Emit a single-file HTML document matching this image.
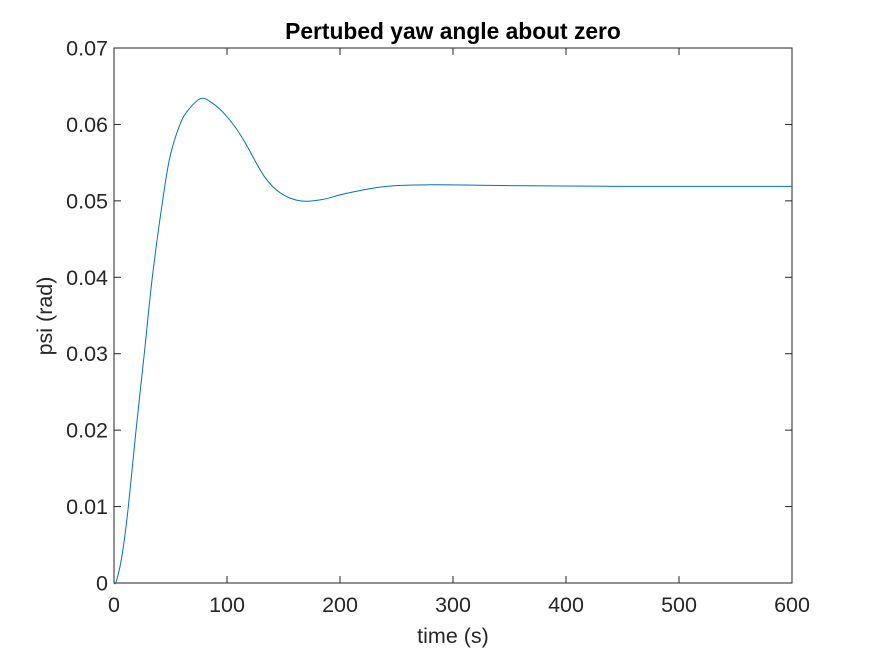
<!DOCTYPE html>
<html><head><meta charset="utf-8"><style>
html,body{margin:0;padding:0;background:#fff;}
svg{display:block;font-family:"Liberation Sans",sans-serif;}
</style></head><body>
<svg id="chart" width="875" height="656" viewBox="0 0 875 656" xmlns="http://www.w3.org/2000/svg">
<rect width="875" height="656" fill="#fff"/>
<g id="axes"></g>
<path id="line" fill="none" stroke="#0072BD" stroke-width="1"/>
<text x="453" y="39" text-anchor="middle" font-size="22.8" font-weight="bold" fill="#000">Pertubed yaw angle about zero</text>
<text x="453" y="643" text-anchor="middle" font-size="21.5" fill="#262626">time (s)</text>
<text transform="translate(52,316) rotate(-90)" text-anchor="middle" font-size="21.5" fill="#262626">psi (rad)</text>
</svg>
<script>
const xTicks=[0,100,200,300,400,500,600];
const yTicks=[0,0.01,0.02,0.03,0.04,0.05,0.06,0.07];
const yTickLabels=["0","0.01","0.02","0.03","0.04","0.05","0.06","0.07"];
const times=[0,2,7,12.7,19.5,26.8,33.9,43,49.6,58.4,65.8,77,87,97,108,118,133,147.5,165,185,206,241,280,350,450,600];
const psi=[0,0.0002,0.0035,0.01,0.02,0.03,0.04,0.05,0.0558,0.06,0.0619,0.0634,0.0628,0.0615,0.0595,0.0571,0.0532,0.051,0.05,0.0502,0.051,0.0519,0.0521,0.052,0.0519,0.0519];
const L=114,R=792,T=48,B=583;
const xs=v=>L+(v-0)/(600-0)*(R-L);
const ys=v=>B-(v-0)/(0.07-0)*(B-T);
const ns="http://www.w3.org/2000/svg";
const g=document.getElementById('axes');
function mk(tag,attrs){const e=document.createElementNS(ns,tag);for(const k in attrs)e.setAttribute(k,attrs[k]);g.appendChild(e);return e;}
const box=mk('rect',{x:L,y:T,width:R-L,height:B-T,fill:'none',stroke:'#262626','stroke-width':1});


xTicks.forEach(t=>{
  const x=xs(t);
  const a=mk('line',{x1:x,x2:x,y1:B,y2:B-7,stroke:'#262626'});
  
  
  const b=mk('line',{x1:x,x2:x,y1:T,y2:T+7,stroke:'#262626'});
  
  
  const tx=mk('text',{x:x,y:B+29,'text-anchor':'middle','font-size':21.5,fill:'#262626'});
  tx.textContent=String(t);
  
  
});
yTicks.forEach((t,i)=>{
  const y=ys(t);
  const a=mk('line',{x1:L,x2:L+7,y1:y,y2:y,stroke:'#262626'});
  
  
  const b=mk('line',{x1:R,x2:R-7,y1:y,y2:y,stroke:'#262626'});
  
  
  const tx=mk('text',{x:L-6,y:y+7.5,'text-anchor':'end','font-size':21.5,fill:'#262626'});
  tx.textContent=yTickLabels[i];
  
  
});
const P=times.map((t,i)=>[xs(t),ys(psi[i])]);
let d='M'+P[0][0]+','+P[0][1];
for(let i=0;i<P.length-1;i++){
  const p0=P[Math.max(0,i-1)],p1=P[i],p2=P[i+1],p3=P[Math.min(P.length-1,i+2)];
  const c1=[p1[0]+(p2[0]-p0[0])/6,p1[1]+(p2[1]-p0[1])/6];
  const c2=[p2[0]-(p3[0]-p1[0])/6,p2[1]-(p3[1]-p1[1])/6];
  d+=' C'+c1+' '+c2+' '+p2;
}
document.getElementById('line').setAttribute('d',d);
</script>
</body></html>
